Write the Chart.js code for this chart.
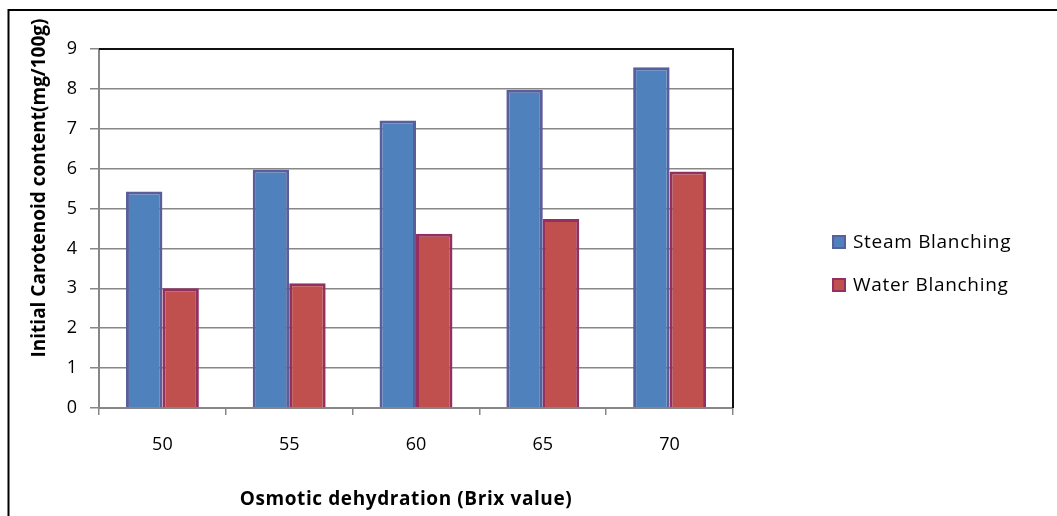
<!DOCTYPE html>
<html>
<head>
<meta charset="utf-8">
<script src="https://cdn.jsdelivr.net/npm/chart.js@4.4.1/dist/chart.umd.min.js"></script>
<style>
  html, body { margin: 0; padding: 0; background: #ffffff; }
  #wrap { width: 1057px; height: 516px; position: relative; }
</style>
</head>
<body>
<div id="wrap"><canvas id="chart" width="1057" height="516"></canvas></div>
<script>
// Brix levels of the osmotic syrup
const categories = ['50', '55', '60', '65', '70'];
// Initial carotenoid content (mg/100g)
const steamBlanching = [5.43, 5.98, 7.21, 7.98, 8.54];
const waterBlanching = [3.00, 3.13, 4.37, 4.74, 5.93];
const yTicks = [0, 1, 2, 3, 4, 5, 6, 7, 8, 9];

const seriesNames = ['Steam Blanching', 'Water Blanching'];
const xTitle = 'Osmotic dehydration (Brix value)';
const yTitle = 'Initial Carotenoid content(mg/100g)';

const FONT = '"Open Sans", "Liberation Sans", sans-serif';
const GRID = '#878787';

// Frame, axis titles and legend drawn on top of the chart
const decorations = {
  id: 'decorations',
  afterDraw(chart) {
    const ctx = chart.ctx;
    const area = chart.chartArea;
    ctx.save();

    // plot-area frame (top and right; left/bottom are the axes)
    ctx.strokeStyle = '#111111';
    ctx.lineWidth = 2;
    ctx.beginPath();
    ctx.moveTo(area.left, area.top);
    ctx.lineTo(area.right, area.top);
    ctx.lineTo(area.right, area.bottom);
    ctx.stroke();

    // chart outer border
    ctx.strokeStyle = '#000000';
    ctx.lineWidth = 2;
    ctx.strokeRect(8.5, 10, 1100, 600);

    // y-axis title
    ctx.fillStyle = '#000000';
    ctx.font = 'bold 19px ' + FONT;
    ctx.textAlign = 'center';
    ctx.textBaseline = 'middle';
    ctx.save();
    ctx.translate(40, 188);
    ctx.rotate(-Math.PI / 2);
    ctx.fillText(yTitle, 0, 0);
    ctx.restore();

    // x-axis title
    ctx.letterSpacing = '0.6px';
    ctx.fillText(xTitle, (area.left + area.right) / 2 - 10, 500);

    // legend
    ctx.font = '19px ' + FONT;
    ctx.letterSpacing = '0.7px';
    ctx.textAlign = 'left';
    chart.data.datasets.forEach((ds, i) => {
      const cy = 242 + i * 43;
      ctx.fillStyle = ds.backgroundColor;
      ctx.fillRect(833, cy - 6, 12, 12);
      ctx.strokeStyle = ds.borderColor;
      ctx.lineWidth = 2;
      ctx.strokeRect(833, cy - 6, 12, 12);
      ctx.fillStyle = '#000000';
      ctx.fillText(ds.label, 853, cy + 1);
    });
    ctx.letterSpacing = '0px';

    ctx.restore();
  }
};

new Chart(document.getElementById('chart'), {
  type: 'bar',
  data: {
    labels: categories,
    datasets: [
      {
        label: seriesNames[0],
        data: steamBlanching,
        backgroundColor: '#4F81BD',
        borderColor: '#5A5E9A',
        borderWidth: 3,
        categoryPercentage: 0.575,
        barPercentage: 1.0
      },
      {
        label: seriesNames[1],
        data: waterBlanching,
        backgroundColor: '#C0504D',
        borderColor: '#93305F',
        borderWidth: 3,
        categoryPercentage: 0.575,
        barPercentage: 1.0
      }
    ]
  },
  options: {
    responsive: false,
    animation: false,
    events: [],
    layout: { padding: { top: 49, right: 324, left: 0, bottom: 0 } },
    plugins: {
      legend: { display: false },
      title: { display: false },
      tooltip: { enabled: false }
    },
    scales: {
      x: {
        offset: true,
        grid: {
          offset: true,
          drawOnChartArea: false,
          drawTicks: true,
          tickLength: 7,
          color: GRID,
          lineWidth: 1.5
        },
        border: { color: GRID, width: 2 },
        ticks: {
          color: '#000000',
          font: { family: FONT, size: 18 },
          padding: 19,
          maxRotation: 0
        },
        afterFit(scale) { scale.height = 108; }
      },
      y: {
        min: 0,
        max: 9,
        afterBuildTicks(scale) { scale.ticks = yTicks.map(v => ({ value: v })); },
        grid: {
          color: GRID,
          lineWidth: 1.5,
          tickLength: 9
        },
        border: { color: GRID, width: 2 },
        ticks: {
          color: '#000000',
          font: { family: FONT, size: 18 },
          padding: 13
        },
        afterFit(scale) { scale.width = 99; }
      }
    }
  },
  plugins: [decorations]
});
</script>
</body>
</html>
